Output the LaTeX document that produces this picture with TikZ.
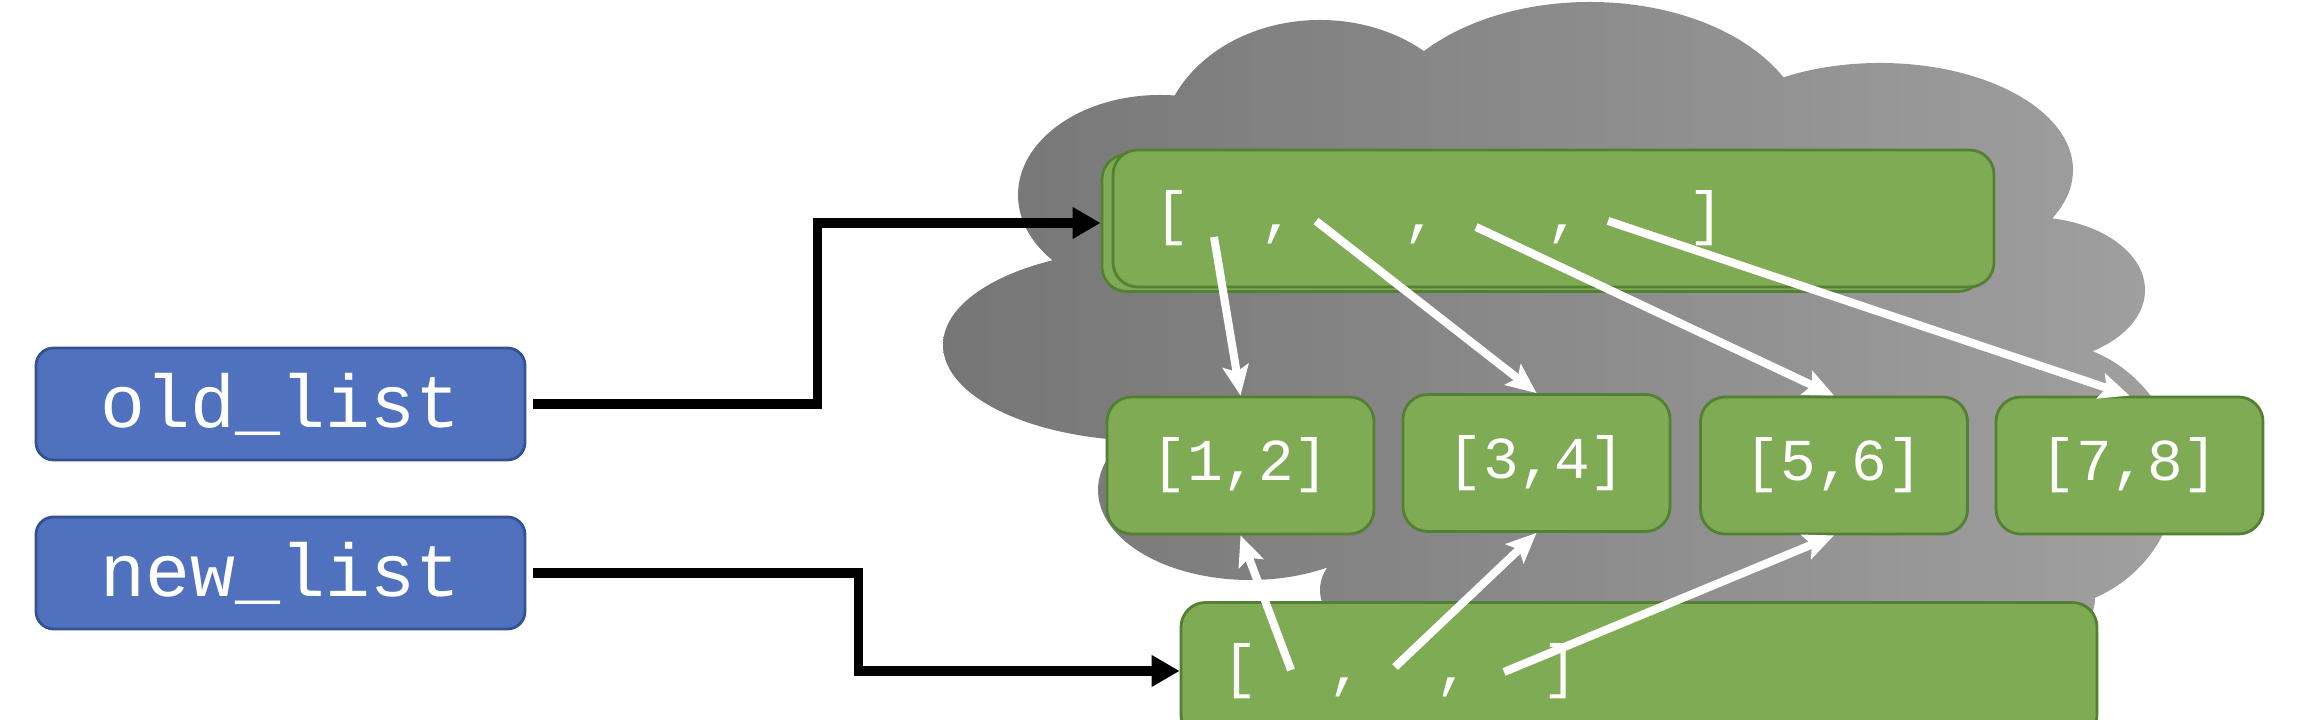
\documentclass[tikz,border=0pt]{standalone}
\usepackage{fontspec}
\setmonofont{Liberation Mono}
\usepackage{tikz}
\usetikzlibrary{positioning,arrows.meta}
\definecolor{varblue}{RGB}{79,113,190}
\definecolor{varedge}{RGB}{52,82,143}
\definecolor{lstgreen}{RGB}{127,171,85}
\definecolor{lstedge}{RGB}{84,128,52}
\definecolor{cloudL}{RGB}{118,118,118}
\definecolor{cloudR}{RGB}{160,160,160}

\begin{document}
\begin{tikzpicture}[
    var/.style={draw=varedge, fill=varblue, line width=0.8pt, rounded corners=5pt,
        minimum width=4.89cm, minimum height=1.12cm, inner sep=0pt,
        text=white, font=\ttfamily\fontsize{21.3}{25}\selectfont},
    lst/.style={draw=lstedge, fill=lstgreen, line width=0.8pt, rounded corners=7pt,
        text=white, font=\ttfamily\fontsize{16.9}{20}\selectfont},
    cell/.style={lst, minimum width=2.67cm, minimum height=1.37cm, inner sep=0pt},
    row/.style={lst, minimum height=1.37cm, inner xsep=0.41cm, inner ysep=0pt, align=left},
    barr/.style={-{Triangle[length=0.28cm,width=0.3cm]}, line width=2.6pt},
    warr/.style={-{Stealth[length=0.3cm,width=0.26cm,inset=0.06cm]}, white, line width=2.3pt},
]
\useasboundingbox (0,0) rectangle (22.98,7.2);

% cloud behind the lists
\shade[left color=cloudL, right color=cloudR]
    (11.60,5.25) ellipse [x radius=1.42, y radius=1.00]
    (11.50,3.75) ellipse [x radius=2.07, y radius=0.96]
    (12.50,2.30) ellipse [x radius=1.52, y radius=0.90]
    (14.20,1.30) ellipse [x radius=1.00, y radius=0.60]
    (17.10,1.20) ellipse [x radius=3.85, y radius=1.00]
    (20.40,2.45) ellipse [x radius=1.37, y radius=1.34]
    (20.30,4.30) ellipse [x radius=1.15, y radius=0.73]
    (18.80,5.50) ellipse [x radius=1.93, y radius=1.07]
    (15.90,5.80) ellipse [x radius=2.17, y radius=1.38]
    (13.20,5.70) ellipse [x radius=1.60, y radius=1.30]
    (16.00,3.90) ellipse [x radius=4.80, y radius=2.30];

% variables
\node[var] (oldvar) at (2.805,3.16) {old\_list};
\node[var] (newvar) at (2.805,1.47) {new\_list};

% old list (two stacked copies)
\node[lst, minimum width=8.81cm, minimum height=1.37cm] (oldback) at (15.425,4.97) {};
\node[row, text width=7.99cm] (oldlst) at (15.535,5.015)
    {[\hphantom{00},\hphantom{000},\hphantom{000},\hphantom{000}]};

% inner lists
\node[cell] (c12) at (12.405,2.545) {[1,2]};
\node[cell] (c34) at (15.365,2.57) {[3,4]};
\node[cell] (c56) at (18.34,2.545) {[5,6]};
\node[cell] (c78) at (21.295,2.545) {[7,8]};

% new list
\node[row, text width=8.34cm] (newlst) at (16.39,0.49)
    {[\hphantom{00},\hphantom{00},\hphantom{00}]};

% element slots
\coordinate (o1) at (12.14,4.83);
\coordinate (o2) at (13.16,4.99);
\coordinate (o3) at (14.76,4.93);
\coordinate (o4) at (16.08,4.99);
\coordinate (n1) at (12.91,0.50);
\coordinate (n2) at (13.95,0.53);
\coordinate (n3) at (15.04,0.48);

\draw[barr, shorten <=0.07cm] (oldvar.east) -- ++(2.91,0) |- (oldback.west);
\draw[barr, shorten <=0.07cm] (newvar.east) -- ++(3.32,0) |- (newlst.west);

\draw[warr] (o1) -- (c12.north);
\draw[warr] (o2) -- (c34.north);
\draw[warr] (o3) -- (c56.north);
\draw[warr] (o4) -- (c78.north);

\draw[warr] (n1) -- (c12.south);
\draw[warr] (n2) -- (c34.south);
\draw[warr] (n3) -- (c56.south);
\end{tikzpicture}
\end{document}
